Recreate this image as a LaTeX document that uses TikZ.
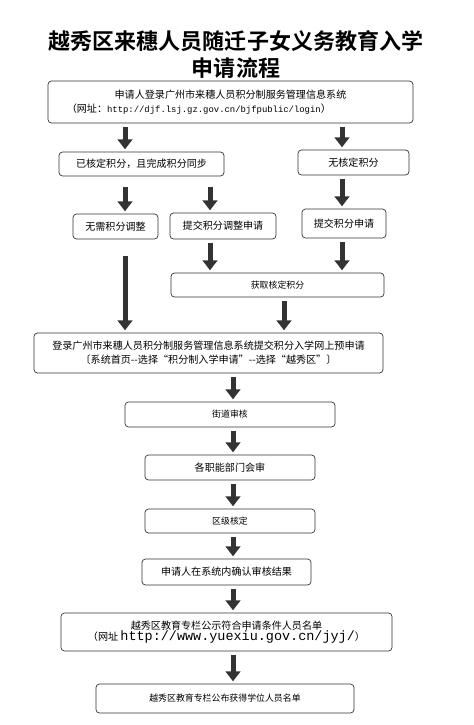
\documentclass[tikz,border=0pt]{standalone}
\usepackage{fontspec}
\usepackage{tikz}
\usetikzlibrary{positioning,calc,arrows.meta}
\newfontfamily\cjk{Noto Sans CJK SC}[BoldFont={Noto Sans CJK SC Bold}]
\newfontfamily\urlmono{Liberation Mono}
\definecolor{ink}{HTML}{333333}

\begin{document}
\begin{tikzpicture}[x=0.03cm,y=-0.03cm,
    stepbox/.style={draw=ink,line width=0.6pt,rounded corners=3pt,inner sep=1pt,align=center,font=\cjk\fontsize{8.6}{11}\selectfont},
    blk/.style={draw=ink,line width=0.15cm,-{Triangle[width=0.44cm,length=0.3cm]},shorten <=3pt,shorten >=2pt}]
\useasboundingbox (0,0) rectangle (473,725);
\node (title) at (236,41) [font=\cjk\bfseries\fontsize{18.8}{22}\selectfont] {越秀区来穗人员随迁子女义务教育入学};
\node (title2) at (236,68) [font=\cjk\bfseries\fontsize{18.8}{22}\selectfont] {申请流程};
% column positions of the arrows
\coordinate (cL) at (125,0);
\coordinate (cM) at (210,0);
\coordinate (cR) at (342,0);
\coordinate (cT) at (284,0);
\coordinate (cC) at (233,0);
\node (login) at (230.5,102) [stepbox,minimum width=10.95cm,minimum height=1.26cm] {申请人登录广州市来穗人员积分制服务管理信息系统\\[1pt]（网址：{\urlmono\fontsize{7.6}{10}\selectfont http://djf.lsj.gz.gov.cn/bjfpublic/login}）\hspace*{1.9cm}};
\node (hasscore) at (141.5,164) [stepbox,minimum width=4.95cm,minimum height=0.72cm] {已核定积分，且完成积分同步};
\node (noscore) at (353.5,162.5) [stepbox,minimum width=3.33cm,minimum height=0.75cm] {无核定积分};
\node (noadj) at (115.5,226.5) [stepbox,minimum width=2.55cm,minimum height=0.75cm] {无需积分调整};
\node (adj) at (223,226) [stepbox,minimum width=3.18cm,minimum height=0.78cm] {提交积分调整申请};
\node (apply) at (344,223.5) [stepbox,minimum width=2.52cm,minimum height=0.87cm] {提交积分申请};
\node (getscore) at (277.5,285) [stepbox,minimum width=6.39cm,minimum height=0.72cm,font=\cjk\fontsize{7.6}{10}\selectfont] {获取核定积分};
\node (online) at (208.5,353) [stepbox,minimum width=10.47cm,minimum height=1.2cm] {登录广州市来穗人员积分制服务管理信息系统提交积分入学网上预申请\\[1pt]〔系统首页--选择“积分制入学申请”--选择“越秀区”〕};
\node (street) at (230,414.5) [stepbox,minimum width=6.3cm,minimum height=0.75cm,font=\cjk\fontsize{7.6}{10}\selectfont] {街道审核};
\node (dept) at (230,467.5) [stepbox,minimum width=5.1cm,minimum height=0.75cm] {各职能部门会审};
\node (district) at (230,521) [stepbox,minimum width=5.1cm,minimum height=0.72cm,font=\cjk\fontsize{7.6}{10}\selectfont] {区级核定};
\node (confirm) at (226.5,572) [stepbox,minimum width=5.07cm,minimum height=0.78cm] {申请人在系统内确认审核结果};
\node (publist) at (226.5,632) [stepbox,minimum width=9.93cm,minimum height=1.14cm] {越秀区教育专栏公示符合申请条件人员名单\\[-1pt]（网址 {\urlmono\fontsize{11.5}{13}\selectfont http://www.yuexiu.gov.cn/jyj/}）};
\node (final) at (225,698.5) [stepbox,minimum width=7.74cm,minimum height=0.87cm,font=\cjk\fontsize{7.6}{10}\selectfont] {越秀区教育专栏公布获得学位人员名单};
\draw[blk] (login.south -| cL) -- (hasscore.north -| cL);
\draw[blk] (login.south -| cR) -- (noscore.north -| cR);
\draw[blk,shorten <=9pt] (hasscore.south -| cL) -- (noadj.north -| cL);
\draw[blk,shorten <=9pt] (hasscore.south -| cM) -- (adj.north -| cM);
\draw[blk] (noscore.south -| cR) -- (apply.north -| cR);
\draw[blk] (adj.south -| cM) -- (getscore.north -| cM);
\draw[blk] (apply.south -| cR) -- (getscore.north -| cR);
\draw[blk,shorten <=14pt] (noadj.south -| cL) -- (online.north -| cL);
\draw[blk] (getscore.south -| cT) -- (online.north -| cT);
\draw[blk] (online.south -| cC) -- (street.north -| cC);
\draw[blk] (street.south -| cC) -- (dept.north -| cC);
\draw[blk] (dept.south -| cC) -- (district.north -| cC);
\draw[blk] (district.south -| cC) -- (confirm.north -| cC);
\draw[blk] (confirm.south -| cC) -- (publist.north -| cC);
\draw[blk] (publist.south -| cC) -- (final.north -| cC);
\end{tikzpicture}
\end{document}
